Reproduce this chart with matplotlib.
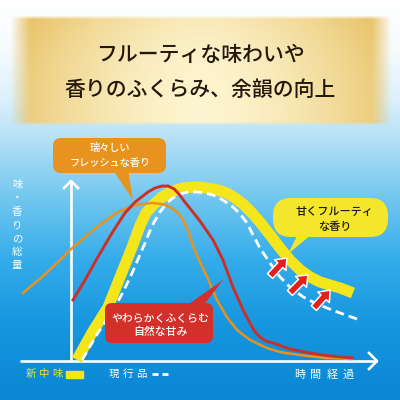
import numpy as np
import matplotlib.pyplot as plt
from matplotlib.patches import FancyBboxPatch, Polygon, Rectangle
from matplotlib.colors import to_rgb

plt.rcParams['font.family'] = ['Noto Sans CJK JP', 'DejaVu Sans']

# time (0-100) vs amount of taste/aroma (0-100)
new_t = [2.3, 7.3, 12.7, 16.7, 20.7, 23.3, 25.3, 27.7, 30.7, 34, 37.7, 41.7, 45.7, 49.3, 52.3, 55,
         57.7, 60.7, 63.3, 66.7, 70, 73.3, 76.7, 80, 83.3, 86.7, 90, 94.3]
new_a = [0.6, 15.6, 30, 46.7, 63.3, 75, 82.2, 86.7, 91.1, 94.4, 96.1, 96.7, 96.1, 95, 93.3, 90.6,
         87.2, 82.2, 77.2, 70, 62.8, 56.1, 50.6, 46.7, 43.9, 42.2, 40.6, 37.8]

cur_t = [4, 9.3, 15, 18, 20.7, 25, 27.3, 30, 32.3, 34.3, 36.7, 39.3, 42.3, 45, 47.7, 51, 54.3,
         56.7, 59, 61, 63.3, 66.7, 70, 73.3, 77.7, 81.7, 85.7, 90, 95.7]
cur_a = [0.6, 15.6, 30, 39.4, 48.9, 65.6, 75, 82.8, 87.8, 90.6, 92.8, 93.9, 93.9, 93.3, 92.2, 89.4, 85.6,
         81.7, 76.7, 70, 62.8, 54.4, 46.7, 41.1, 35.6, 32.2, 29.4, 26.7, 23.3]

fresh_t = [-15.7, -9.3, -4, 0, 5, 10.7, 16, 21.7, 27.3, 30.7, 33.3, 35.7, 37.7, 39.3, 41, 43.3,
           45.7, 49, 52.3, 55.7, 60, 65.7, 70, 76.7, 85, 94]
fresh_a = [37.8, 46.7, 55, 61.7, 68.9, 76.7, 82.8, 86.7, 87.8, 87.2, 85.6, 82.8, 78.3, 72.8, 63.9, 55,
           46.7, 33.9, 24.4, 17.2, 11.7, 7.2, 5, 3.3, 1.7, 1.1]

sweet_t = [1, 5, 9.3, 14, 18.3, 21.7, 26, 28.3, 30.7, 32.7, 34.7, 36.3, 38.3, 40.7, 43.3, 47.7, 51,
           54.3, 57.7, 60.7, 62, 63.3, 65.3, 67.7, 73.3, 80, 86.7, 94]
sweet_a = [33.9, 45, 57.8, 71.1, 82.2, 88.3, 93.9, 96.1, 97.2, 97.2, 95.6, 92.8, 88.3, 83.3, 77.8, 67.2, 56.1,
           41.1, 28.3, 18.9, 15.6, 13.3, 11.1, 10, 6.7, 4.4, 2.8, 1.7]

# red "up" arrows between current and new product
arrow_from = [(66.7, 47.2), (73.3, 37.8), (81.3, 29.4)]
arrow_to = [(72.3, 57.2), (79.3, 47.8), (86.7, 39.4)]

title_lines = ['フルーティな味わいや', '香りのふくらみ、余韻の向上']
ylabel = '味・香りの総量'

YELLOW = '#f5e61c'
RED = '#cc2f2a'
ORANGE = '#e8921f'

fig = plt.figure(figsize=(4, 4), dpi=100)

# background layer in pixel coords
bg = fig.add_axes([0, 0, 1, 1], zorder=0)
stops_y = [0, 50, 100, 140, 200, 260, 320, 400]
stops_c = ['#ffffff', '#f6fbfe', '#dcf0fb', '#b4e0f6', '#70c6ef', '#34acea', '#1898e0', '#0a86d4']
cols = np.array([to_rgb(c) for c in stops_c])
rows = np.arange(400) + 0.5
grad = np.stack([np.interp(rows, stops_y, cols[:, k]) for k in range(3)], axis=-1)[:, None, :]
bg.imshow(grad, extent=[0, 400, 400, 0], aspect='auto', zorder=0)

# gold banner
bx0, bx1, by0, by1 = 10, 392, 15, 126
xs = np.linspace(bx0, bx1, 382)
ys = np.linspace(by0, by1, 111)
X, Y = np.meshgrid(xs, ys)
u = (X - bx0) / (bx1 - bx0)
v = (Y - by0) / (by1 - by0)
w = np.clip(np.abs(u - 0.5) * 2, 0, 1) ** 1.6 * 0.9 + 0.25 * (1 - v) ** 3
w = np.clip(w, 0, 1)
center = np.array(to_rgb('#fdf5d0'))
edge = np.array(to_rgb('#e8c266'))
rgb = center + (edge - center) * w[..., None]
alpha = np.clip(np.minimum(X - bx0, bx1 - X) / 20, 0, 1) * np.clip(np.minimum(Y - by0, by1 - Y) / 4, 0, 1)
banner = np.dstack([rgb, alpha])
bg.imshow(banner, extent=[bx0, bx1, by1, by0], aspect='auto', zorder=1)
bg.text(200, 55, title_lines[0], ha='center', va='center', fontsize=15, color='#24180b',
        weight='medium', zorder=2)
bg.text(200, 90, title_lines[1], ha='center', va='center', fontsize=15, color='#24180b',
        weight='medium', zorder=2)

# axes arrows
bg.plot([20, 377], [361, 361], color='white', lw=1.9, solid_capstyle='butt', zorder=2)
bg.plot([369, 377, 369], [353, 361, 369], color='white', lw=1.9, zorder=2)
bg.plot([71, 71], [362, 181], color='white', lw=1.9, solid_capstyle='butt', zorder=2)
bg.plot([64, 71, 78], [188, 181, 188], color='white', lw=1.9, zorder=2)

for i, ch in enumerate(ylabel):
    bg.text(17, 185 + i * 13.4, ch, ha='center', va='center', fontsize=7.5, color='white', zorder=2)

# legend-ish labels at bottom
for i, ch in enumerate('新中味'):
    bg.text(31 + i * 13, 374, ch, ha='center', va='center', fontsize=7.5, color='#d9ee3c', zorder=2)
bg.add_patch(Rectangle((66, 371), 17, 7, color=YELLOW, zorder=2))
for i, ch in enumerate('現行品'):
    bg.text(114 + i * 13.5, 374, ch, ha='center', va='center', fontsize=7.5, color='white', zorder=2)
bg.plot([152, 158], [374, 374], color='white', lw=2, solid_capstyle='butt', zorder=2)
bg.plot([162, 168], [374, 374], color='white', lw=2, solid_capstyle='butt', zorder=2)
for i, ch in enumerate('時間経過'):
    bg.text(300 + i * 16, 375, ch, ha='center', va='center', fontsize=8, color='white', zorder=2)

bg.set_xlim(0, 400)
bg.set_ylim(400, 0)
bg.axis('off')

# chart layer: time 0 at the y axis, amount 0 at the x axis
ax = fig.add_axes([0, 0, 1, 1], zorder=1)
ax.patch.set_alpha(0)
ax.plot(new_t, new_a, color=YELLOW, lw=8, solid_capstyle='butt', solid_joinstyle='round', zorder=1)
ax.plot(cur_t, cur_a, color='white', lw=2, dashes=(3.2, 1.8), zorder=2)
ax.plot(fresh_t, fresh_a, color=ORANGE, lw=1.8, solid_joinstyle='round', zorder=3)
ax.plot(sweet_t, sweet_a, color=RED, lw=2.1, solid_joinstyle='round', zorder=4)
for p0, p1 in zip(arrow_from, arrow_to):
    ax.annotate('', xy=p1, xytext=p0, zorder=5,
                arrowprops=dict(arrowstyle='simple,head_length=0.5,head_width=0.8,tail_width=0.36',
                                fc='#e3201b', ec='white', lw=1.1, shrinkA=0, shrinkB=0,
                                mutation_scale=14))
ax.set_xlim(-70 / 3, 110)
ax.set_ylim(-39 / 1.8, 361 / 1.8)
ax.axis('off')

# callouts on top, pixel coords
fg = fig.add_axes([0, 0, 1, 1], zorder=2)
fg.patch.set_alpha(0)

fg.add_patch(FancyBboxPatch((53, 138), 113, 35, boxstyle='round,pad=0,rounding_size=8',
                            fc=ORANGE, ec='none'))
fg.add_patch(Polygon([(113, 170), (128, 170), (133, 200)], closed=True, fc=ORANGE, ec='none'))
fg.text(110, 148, '瑞々しい', ha='center', va='center', fontsize=7.3, color='white', weight='medium')
fg.text(110, 163, 'フレッシュな香り', ha='center', va='center', fontsize=7.3, color='white', weight='medium')

fg.add_patch(FancyBboxPatch((273, 198), 115, 39, boxstyle='round,pad=0,rounding_size=18',
                            fc='#f4e62a', ec='none'))
fg.add_patch(Polygon([(298, 234), (312, 234), (288, 254)], closed=True, fc='#f4e62a', ec='none'))
fg.text(334, 212, '甘くフルーティ', ha='center', va='center', fontsize=8, color='#1a1a1a', weight='medium')
fg.text(335, 227, 'な香り', ha='center', va='center', fontsize=8, color='#1a1a1a', weight='medium')

fg.add_patch(FancyBboxPatch((105, 303), 108, 40, boxstyle='round,pad=0,rounding_size=7',
                            fc='#d3302a', ec='none'))
fg.add_patch(Polygon([(186, 306), (203, 306), (223, 280)], closed=True, fc='#d3302a', ec='none'))
fg.text(160, 318, 'やわらかくふくらむ', ha='center', va='center', fontsize=7.8, color='white', weight='medium')
fg.text(160, 332, '自然な甘み', ha='center', va='center', fontsize=7.8, color='white', weight='medium')

fg.set_xlim(0, 400)
fg.set_ylim(400, 0)
fg.axis('off')

fig.savefig('out.png', dpi=100)
